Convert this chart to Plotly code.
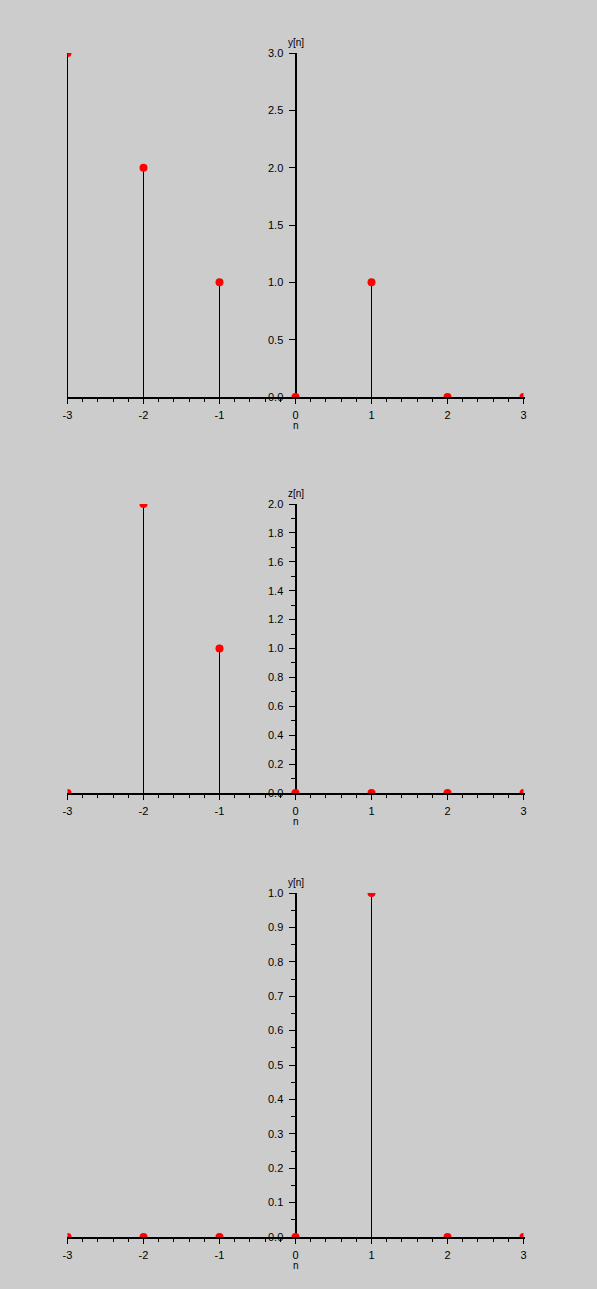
import plotly.graph_objects as go

W, H = 597, 1289

n = [-3, -2, -1, 0, 1, 2, 3]
y_top = [3, 2, 1, 0, 1, 0, 0]
z_mid = [0, 2, 1, 0, 0, 0, 0]
y_bot = [0, 0, 0, 0, 1, 0, 0]

series = [y_top, z_mid, y_bot]
ylabels = ["y[n]", "z[n]", "y[n]"]
ymax = [3.0, 2.0, 1.0]
ydticks = [0.5, 0.2, 0.1]
yminor = [None, 0.1, 0.05]
xticks = [-3, -2, -1, 0, 1, 2, 3]
xmin, xmax = -3, 3

# pixel extents of plot areas (top, bottom)
panels_px = [(53, 397), (504, 793), (893, 1237)]
x_left, x_right = 67.5, 523.5

BG = "#cccccc"
FONT = "Liberation Sans, Arial, sans-serif"

fig = go.Figure()
layout = dict(
    width=W, height=H,
    margin=dict(l=0, r=0, t=0, b=0, pad=0, autoexpand=False),
    paper_bgcolor=BG, plot_bgcolor="rgba(0,0,0,0)", showlegend=False,
    font=dict(family=FONT, size=11, color="black"),
)
annotations = []
yaxis_pos = (x_left + (x_right - x_left) * 0.5) / W
px_per_unit = (x_right - x_left) / (xmax - xmin)
pad_units = 1.0 / px_per_unit  # 1px widened clip area for stems / axis line

for i, vals in enumerate(series):
    k = "" if i == 0 else str(i + 1)
    xa, ya = "x" + k, "y" + k
    hk = str(i + 4)
    xh = "x" + hk  # exact-domain axis used for marker clipping
    top, bot = panels_px[i]
    stem_x, stem_y = [], []
    for xv, yv in zip(n, vals):
        if yv != 0:
            stem_x += [xv, xv, None]
            stem_y += [0, yv, None]
    fig.add_trace(go.Scatter(x=stem_x, y=stem_y, mode="lines",
                             line=dict(color="black", width=1),
                             xaxis=xa, yaxis=ya, hoverinfo="skip"))
    fig.add_trace(go.Scatter(x=n, y=vals, mode="markers",
                             marker=dict(color="red", size=8, line=dict(width=0)),
                             cliponaxis=True, xaxis=xh, yaxis=ya))
    layout["xaxis" + hk] = dict(
        domain=[x_left / W, x_right / W], range=[xmin, xmax], anchor=ya,
        visible=False, showgrid=False, zeroline=False,
    )
    layout["xaxis" + k] = dict(
        domain=[(x_left - 1) / W, (x_right + 1) / W],
        range=[xmin - pad_units, xmax + pad_units], anchor=ya,
        tickvals=xticks, ticktext=[str(t) for t in xticks],
        showline=True, linecolor="black", linewidth=1.5,
        ticks="outside", ticklen=5, tickwidth=1, tickcolor="black",
        minor=dict(dtick=0.2, tick0=0, ticks="outside", ticklen=3,
                   tickwidth=1, tickcolor="black", showgrid=False),
        showgrid=False, zeroline=False, layer="below traces",
        automargin=False,
        tickfont=dict(family=FONT, size=11, color="black"), ticklabelstandoff=2,
    )
    ymin_dict = dict(showgrid=False)
    if yminor[i]:
        ymin_dict = dict(dtick=yminor[i], tick0=0, ticks="outside", ticklen=4,
                         tickwidth=1, tickcolor="black", showgrid=False)
    layout["yaxis" + k] = dict(
        domain=[1 - bot / H, 1 - top / H], range=[0, ymax[i]],
        anchor="free", position=yaxis_pos,
        tick0=0, dtick=ydticks[i], tickformat=".1f",
        showline=True, linecolor="black", linewidth=2,
        ticks="outside", ticklen=6, tickwidth=1, tickcolor="black",
        minor=ymin_dict, automargin=False,
        showgrid=False, zeroline=False, layer="below traces",
        tickfont=dict(family=FONT, size=11, color="black"), ticklabelstandoff=3,
    )
    annotations.append(dict(text=ylabels[i], xref=xa, yref=ya + " domain",
                            x=0, y=1, xanchor="center", yanchor="bottom",
                            yshift=3, showarrow=False,
                            font=dict(family=FONT, size=10, color="black")))
    annotations.append(dict(text="n", xref=xa, yref=ya + " domain",
                            x=0, y=0, xanchor="center", yanchor="top",
                            yshift=-21, showarrow=False,
                            font=dict(family=FONT, size=10, color="black")))

layout["annotations"] = annotations
fig.update_layout(**layout)
fig.write_html("out.html", config={"displayModeBar": False},
               post_script="document.body.style.margin='0';")
